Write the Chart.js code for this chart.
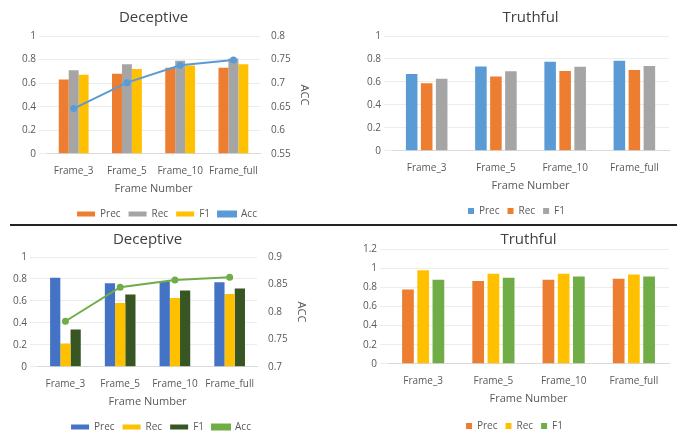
<!DOCTYPE html>
<html>
<head>
<meta charset="utf-8">
<script src="https://cdn.jsdelivr.net/npm/chart.js@4/dist/chart.umd.min.js"></script>
<style>
  body { margin: 0; background: #fff; width: 677px; height: 433px; position: relative; overflow: hidden; }
  .box { position: absolute; }
  .sep { position: absolute; left: 10px; right: 0; top: 224px; height: 2px; background: #222; }
</style>
</head>
<body>
<div class="box" style="left:0;top:0;width:338px;height:231px"><canvas id="c1"></canvas></div>
<div class="box" style="left:338px;top:0;width:339px;height:228px"><canvas id="c2"></canvas></div>
<div class="box" style="left:0;top:227px;width:338px;height:215px"><canvas id="c3"></canvas></div>
<div class="box" style="left:338px;top:227px;width:339px;height:214px"><canvas id="c4"></canvas></div>
<div class="sep"></div>
<script>
// categories
const frames = ['Frame_3', 'Frame_5', 'Frame_10', 'Frame_full'];

// top-left: Deceptive
const dec1Prec = [0.63, 0.68, 0.73, 0.73];
const dec1Rec = [0.71, 0.76, 0.79, 0.81];
const dec1F1 = [0.67, 0.72, 0.75, 0.76];
const dec1Acc = [0.646, 0.701, 0.738, 0.749];

// top-right: Truthful
const tru1Prec = [0.67, 0.735, 0.775, 0.784];
const tru1Rec = [0.588, 0.648, 0.695, 0.703];
const tru1F1 = [0.628, 0.692, 0.732, 0.738];

// bottom-left: Deceptive
const dec2Prec = [0.81, 0.761, 0.779, 0.77];
const dec2Rec = [0.212, 0.582, 0.627, 0.664];
const dec2F1 = [0.339, 0.658, 0.694, 0.712];
const dec2Acc = [0.783, 0.845, 0.858, 0.863];

// bottom-right: Truthful
const tru2Prec = [0.776, 0.865, 0.879, 0.889];
const tru2Rec = [0.978, 0.94, 0.94, 0.933];
const tru2F1 = [0.879, 0.899, 0.913, 0.913];

const legendOrder = ['Prec', 'Rec', 'F1', 'Acc'];

Chart.defaults.font.family = "'Open Sans', 'Noto Sans', sans-serif";
Chart.defaults.color = '#595959';
Chart.defaults.animation = false;

const tickFont = { size: 10 };
const gridCol = '#ececec';
const fmt = v => String(+v.toFixed(2));

function xScale(padBottom) {
    return {
        grid: { display: false },
        border: { color: '#d9d9d9' },
        ticks: { font: tickFont, color: '#595959', maxRotation: 0, minRotation: 0, autoSkip: false },
        title: { display: true, text: 'Frame Number', font: { size: 11 }, color: '#595959', padding: { top: 2, bottom: padBottom } }
    };
}

function yScale(min, max) {
    return { min: min, max: max, ticks: { stepSize: 0.2, font: tickFont, callback: fmt }, grid: { color: gridCol }, border: { display: false } };
}

function accScale(min, max) {
    return {
        position: 'right', min: min, max: max,
        ticks: { stepSize: 0.05, font: tickFont, callback: fmt },
        grid: { display: false }, border: { display: false },
        title: { display: true, text: 'ACC', font: { size: 11 }, color: '#595959' }
    };
}

function titleOpt(text, top, bottom) {
    return { display: true, fullSize: false, text: text, font: { size: 15, weight: 'normal' }, color: '#404040', padding: { top: top, bottom: bottom } };
}

function lineLegend() {
    return {
        position: 'bottom',
        labels: {
            boxWidth: 18, boxHeight: 5, font: { size: 10 }, color: '#595959', padding: 8,
            sort: (a, b) => legendOrder.indexOf(a.text) - legendOrder.indexOf(b.text)
        }
    };
}

function barLegend() {
    return { position: 'bottom', labels: { boxWidth: 6, boxHeight: 6, font: { size: 10 }, color: '#595959', padding: 8 } };
}

// Chart 1
new Chart(document.getElementById('c1'), {
    data: {
        labels: frames,
        datasets: [
            { type: 'line', label: 'Acc', data: dec1Acc, yAxisID: 'y1', borderColor: '#5B9BD5', backgroundColor: '#5B9BD5', borderWidth: 2, pointRadius: 2.5, order: 0 },
            { type: 'bar', label: 'Prec', data: dec1Prec, backgroundColor: '#ED7D31', order: 1 },
            { type: 'bar', label: 'Rec', data: dec1Rec, backgroundColor: '#A5A5A5', order: 1 },
            { type: 'bar', label: 'F1', data: dec1F1, backgroundColor: '#FFC000', order: 1 }
        ]
    },
    options: {
        responsive: true,
        maintainAspectRatio: false,
        datasets: { bar: { barPercentage: 1, categoryPercentage: 0.56 } },
        layout: { padding: { left: 19, right: 23, bottom: 2 } },
        plugins: { title: titleOpt('Deceptive', 9, 9), legend: lineLegend() },
        scales: { x: xScale(6), y: yScale(0, 1), y1: accScale(0.55, 0.8) }
    }
});

// Chart 2
new Chart(document.getElementById('c2'), {
    type: 'bar',
    data: {
        labels: frames,
        datasets: [
            { label: 'Prec', data: tru1Prec, backgroundColor: '#5B9BD5' },
            { label: 'Rec', data: tru1Rec, backgroundColor: '#ED7D31' },
            { label: 'F1', data: tru1F1, backgroundColor: '#A5A5A5' }
        ]
    },
    options: {
        responsive: true,
        maintainAspectRatio: false,
        datasets: { bar: { barPercentage: 0.77, categoryPercentage: 0.65 } },
        layout: { padding: { left: 26, right: 8, bottom: 2 } },
        plugins: { title: titleOpt('Truthful', 9, 9), legend: barLegend() },
        scales: { x: xScale(6), y: yScale(0, 1) }
    }
});

// Chart 3
new Chart(document.getElementById('c3'), {
    data: {
        labels: frames,
        datasets: [
            { type: 'line', label: 'Acc', data: dec2Acc, yAxisID: 'y1', borderColor: '#70AD47', backgroundColor: '#70AD47', borderWidth: 2, pointRadius: 2.5, order: 0 },
            { type: 'bar', label: 'Prec', data: dec2Prec, backgroundColor: '#4472C4', order: 1 },
            { type: 'bar', label: 'Rec', data: dec2Rec, backgroundColor: '#FFC000', order: 1 },
            { type: 'bar', label: 'F1', data: dec2F1, backgroundColor: '#375623', order: 1 }
        ]
    },
    options: {
        responsive: true,
        maintainAspectRatio: false,
        datasets: { bar: { barPercentage: 1, categoryPercentage: 0.56 } },
        layout: { padding: { left: 10, right: 26, bottom: 0 } },
        plugins: { title: titleOpt('Deceptive', 4, 8), legend: lineLegend() },
        scales: { x: xScale(6), y: yScale(0, 1), y1: accScale(0.7, 0.9) }
    }
});

// Chart 4
new Chart(document.getElementById('c4'), {
    type: 'bar',
    data: {
        labels: frames,
        datasets: [
            { label: 'Prec', data: tru2Prec, backgroundColor: '#ED7D31' },
            { label: 'Rec', data: tru2Rec, backgroundColor: '#FFC000' },
            { label: 'F1', data: tru2F1, backgroundColor: '#70AD47' }
        ]
    },
    options: {
        responsive: true,
        maintainAspectRatio: false,
        datasets: { bar: { barPercentage: 0.77, categoryPercentage: 0.65 } },
        layout: { padding: { left: 22, right: 8, bottom: 0 } },
        plugins: { title: titleOpt('Truthful', 4, 0), legend: barLegend() },
        scales: { x: xScale(8), y: yScale(0, 1.2) }
    }
});
</script>
</body>
</html>
